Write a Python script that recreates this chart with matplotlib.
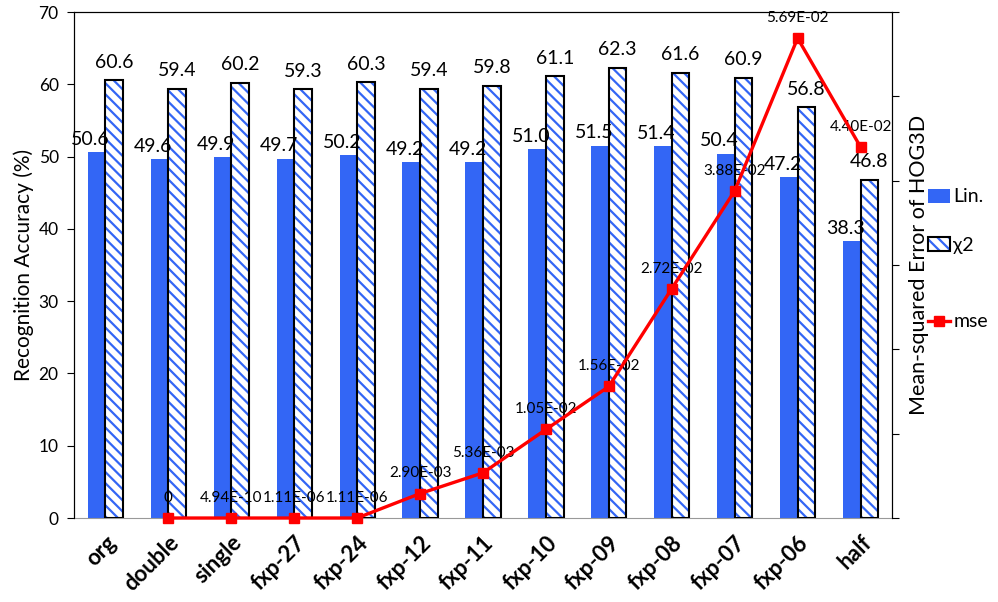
import matplotlib
matplotlib.use('Agg')
import matplotlib.pyplot as plt
import numpy as np
from matplotlib.patches import Patch
from matplotlib.lines import Line2D
from matplotlib.legend_handler import HandlerTuple

plt.rcParams['font.family'] = ['Lato', 'DejaVu Sans']
plt.rcParams['hatch.linewidth'] = 1.6

categories = ['org', 'double', 'single', 'fxp-27', 'fxp-24', 'fxp-12', 'fxp-11',
              'fxp-10', 'fxp-09', 'fxp-08', 'fxp-07', 'fxp-06', 'half']
lin = [50.6, 49.6, 49.9, 49.7, 50.2, 49.2, 49.2, 51.0, 51.5, 51.4, 50.4, 47.2, 38.3]
chi2 = [60.6, 59.4, 60.2, 59.3, 60.3, 59.4, 59.8, 61.1, 62.3, 61.6, 60.9, 56.8, 46.8]
# mse has no value for 'org'
mse = [0, 4.94e-10, 1.11e-06, 1.11e-06, 2.90e-03, 5.36e-03, 1.05e-02,
       1.56e-02, 2.72e-02, 3.88e-02, 5.69e-02, 4.40e-02]
mse_labels = ['0', '4.94E-10', '1.11E-06', '1.11E-06', '2.90E-03', '5.36E-03',
              '1.05E-02', '1.56E-02', '2.72E-02', '3.88E-02', '5.69E-02', '4.40E-02']

blue = '#3366f5'
x = np.arange(len(categories))
w = 0.28

fig = plt.figure(figsize=(9.98, 6.02), dpi=100)
ax = fig.add_axes([0.0741, 0.1395, 0.8197, 0.8405])

ax.bar(x - w / 2, lin, w, color=blue, zorder=2)
ax.bar(x + w / 2, chi2, w, facecolor='white', edgecolor=blue, hatch='\\\\\\',
       linewidth=0, zorder=2)
ax.bar(x + w / 2, chi2, w, facecolor='none', edgecolor='black', linewidth=1.5, zorder=3)

for i in range(len(categories)):
    ax.text(x[i] - w / 2 - 0.1, lin[i] + 0.6, '%.1f' % lin[i], ha='center', va='bottom',
            fontsize=14)
    ax.text(x[i] + w / 2, chi2[i] + 1.3, '%.1f' % chi2[i], ha='center', va='bottom',
            fontsize=14)

ax.set_xlim(-0.5, len(categories) - 0.5)
ax.set_ylim(0, 70)
ax.set_yticks(range(0, 71, 10))
ax.tick_params(axis='y', labelsize=12.5, length=5, pad=6)
ax.tick_params(axis='x', length=0, pad=10)
ax.set_xticks(x)
ax.set_xticklabels(categories, rotation=45, ha='right', rotation_mode='anchor',
                   fontsize=16, fontweight='bold')
ax.set_ylabel('Recognition Accuracy (%)', fontsize=15, labelpad=3)
ax.spines['bottom'].set_color('#999999')

ax2 = ax.twinx()
ax2.set_ylim(0, 0.06)
ax2.set_yticks(np.arange(0, 0.061, 0.01))
ax2.set_yticklabels([])
ax2.tick_params(axis='y', length=5)
ax2.spines['bottom'].set_visible(False)
ax2.set_ylabel('Mean-squared Error of HOG3D', fontsize=15.5, labelpad=4)
mx = x[1:]
ax2.plot(mx, mse, color='red', linewidth=2.4, marker='s', markersize=7.5, zorder=5,
         clip_on=False)
for xi, v, s in zip(mx, mse, mse_labels):
    ax2.annotate(s, (xi, v), xytext=(0, 14.5), textcoords='offset points', ha='center',
                 va='center', fontsize=11)

h_lin = Patch(facecolor=blue, edgecolor='none')
h_chi = (Patch(facecolor='white', edgecolor=blue, hatch='\\\\\\', linewidth=0),
         Patch(facecolor='none', edgecolor='black', linewidth=1.5))
h_mse = Line2D([], [], color='red', linewidth=2.4, marker='s', markersize=7)
legend_items = [(h_lin, 'Lin.', 197), (h_chi, 'χ2', 245), (h_mse, 'mse', 322)]
for h, lab, ypix in legend_items:
    fig.legend([h], [lab], handler_map={tuple: HandlerTuple(ndivide=1, pad=0)},
               loc='center left', bbox_to_anchor=(0.93, 1 - ypix / 602), frameon=False,
               fontsize=14, handlelength=1.1, handletextpad=0.2, borderpad=0,
               borderaxespad=0)

fig.savefig('out.png', dpi=100)
